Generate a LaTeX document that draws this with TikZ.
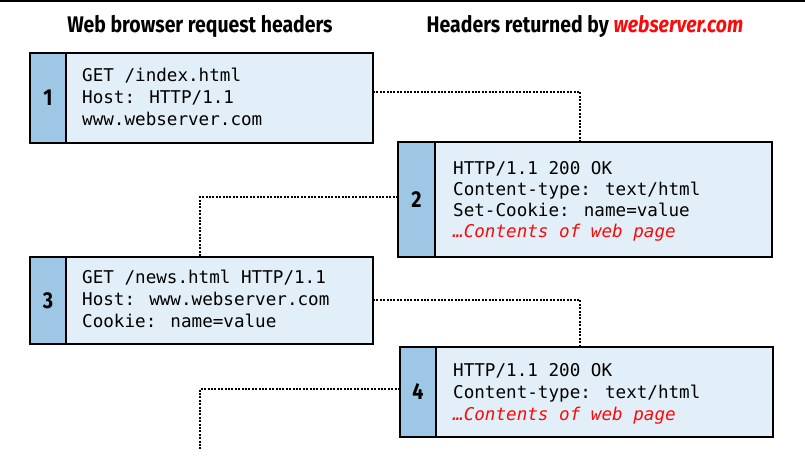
\documentclass[tikz,border=0pt]{standalone}
\usepackage{fontspec}
\newfontfamily\monof{DejaVu Sans Mono}
\newfontfamily\headf[FakeStretch=0.86]{Fira Sans}
\definecolor{stripblue}{RGB}{157,199,228}
\definecolor{bodyblue}{RGB}{226,239,248}
\definecolor{hred}{RGB}{250,10,10}
\begin{document}
\begin{tikzpicture}[x=1pt,y=-1pt,
  boxbody/.style={draw=black,line width=2pt,fill=bodyblue,inner sep=0pt,outer sep=0pt,anchor=north west},
  stripbox/.style={draw=black,line width=2pt,fill=stripblue,inner sep=0pt,outer sep=0pt,anchor=north west,minimum width=36pt,font=\headf\bfseries\fontsize{23}{23}\selectfont},
  txt/.style={anchor=base west,inner sep=0pt,font=\monof\fontsize{17.6}{20}\selectfont},
  redtxt/.style={txt,text=hred,font=\monof\itshape\fontsize{17.6}{20}\selectfont},
  titletxt/.style={inner sep=0pt,anchor=base,font=\headf\bfseries\fontsize{22.6}{22.6}\selectfont},
  conn/.style={line width=2.2pt,dash pattern=on 2pt off 1.4pt}]
\useasboundingbox (0,0) rectangle (805,464);
\draw[line width=1.5pt] (0,0.75) -- (805,0.75);

% titles
\node[titletxt] (h1) at (200,32) {Web browser request headers};
\node[titletxt] (h2) at (585,32) {Headers returned by {\color{hred}\itshape webserver.com}};

% box 1
\node[boxbody,minimum width=343pt,minimum height=90pt] (b1) at (30,53) {};
\node[stripbox,minimum height=90pt] (s1) at (30,53) {1};
\node[txt] (t1a) at (82,81) {GET /index.html};
\node[txt] (t1b) at (82,103) {Host: HTTP/1.1};
\node[txt] (t1c) at (82,125) {www.webserver.com};

% box 2
\node[boxbody,minimum width=374pt,minimum height=115pt] (b2) at (398,142) {};
\node[stripbox,minimum height=115pt,minimum width=37pt] (s2) at (398,142) {2};
\node[txt] (t2a) at (453,174) {HTTP/1.1 200 OK};
\node[txt] (t2b) at (453,195) {Content-type: text/html};
\node[txt] (t2c) at (453,216) {Set-Cookie: name=value};
\node[redtxt] (t2d) at (453,237) {…Contents of web page};

% box 3
\node[boxbody,minimum width=343pt,minimum height=87pt] (b3) at (30,257) {};
\node[stripbox,minimum height=87pt] (s3) at (30,257) {3};
\node[txt] (t3a) at (82,283) {GET /news.html HTTP/1.1};
\node[txt] (t3b) at (82,305) {Host: www.webserver.com};
\node[txt] (t3c) at (82,327) {Cookie: name=value};

% box 4
\node[boxbody,minimum width=373pt,minimum height=90pt] (b4) at (400,347) {};
\node[stripbox,minimum height=90pt] (s4) at (400,347) {4};
\node[txt] (t4a) at (453,376) {HTTP/1.1 200 OK};
\node[txt] (t4b) at (453,398) {Content-type: text/html};
\node[redtxt] (t4c) at (453,420) {…Contents of web page};

% connectors
\coordinate (c1) at (580,92);
\coordinate (c2) at (200,197);
\coordinate (c3) at (580,300);
\coordinate (c4) at (200,389);
\coordinate (e4) at (200,450);
\draw[conn] (b1.east |- c1) -| (b2.north -| c1);
\draw[conn] (b2.west |- c2) -| (b3.north -| c2);
\draw[conn] (b3.east |- c3) -| (b4.north -| c3);
\draw[conn] (b4.west |- c4) -| (e4);
\end{tikzpicture}
\end{document}
